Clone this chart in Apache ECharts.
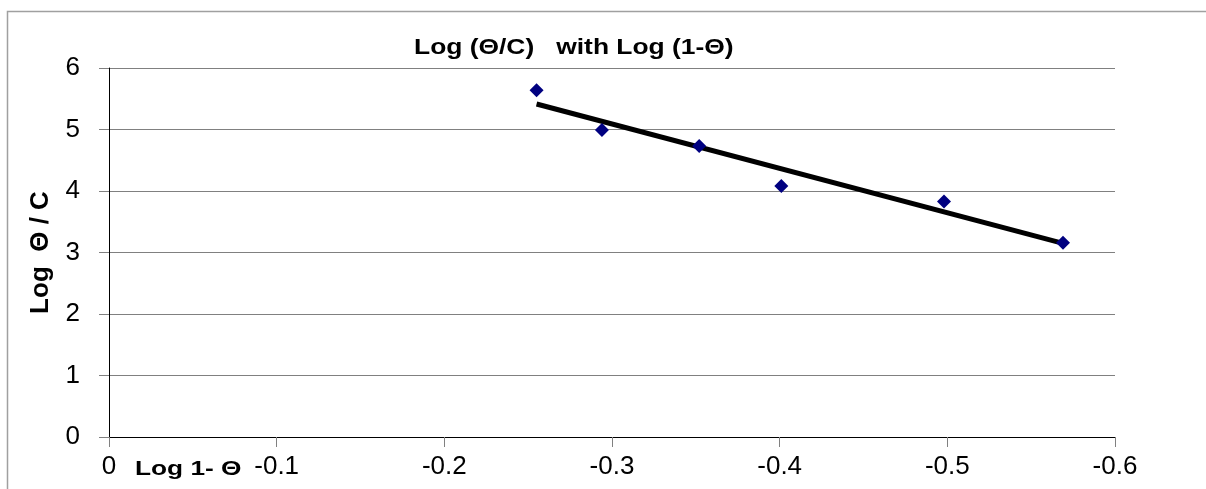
<!DOCTYPE html>
<html>
<head>
<meta charset="utf-8">
<script src="https://cdn.jsdelivr.net/npm/echarts@6/dist/echarts.min.js"></script>
<style>
  html, body { margin: 0; padding: 0; background: #fff; }
  #chart { width: 1206px; height: 489px; }
</style>
</head>
<body>
<div id="chart"></div>
<script>
// Log(1-Θ) values and Log(Θ/C) values
var logOneMinusTheta = [-0.255, -0.294, -0.352, -0.401, -0.498, -0.569];
var logThetaOverC = [5.64, 4.99, 4.73, 4.08, 3.83, 3.16];

var points = logOneMinusTheta.map(function (x, i) { return [x, logThetaOverC[i]]; });

// least squares trend line over the points
function trend(xs, ys) {
  var n = xs.length, mx = 0, my = 0, sxy = 0, sxx = 0;
  for (var i = 0; i < n; i++) { mx += xs[i]; my += ys[i]; }
  mx /= n; my /= n;
  for (var j = 0; j < n; j++) {
    sxy += (xs[j] - mx) * (ys[j] - my);
    sxx += (xs[j] - mx) * (xs[j] - mx);
  }
  var b = sxy / sxx, a = my - b * mx;
  var lo = Math.min.apply(null, xs), hi = Math.max.apply(null, xs);
  return [[hi, a + b * hi], [lo, a + b * lo]];
}
var trendLine = trend(logOneMinusTheta, logThetaOverC);

var font = '"Liberation Sans", Arial, sans-serif';
var chart = echarts.init(document.getElementById('chart'));

chart.setOption({
  animation: false,
  backgroundColor: '#fff',
  grid: { left: 109, right: 91, top: 68, bottom: 52 },
  xAxis: {
    type: 'value',
    min: -0.6,
    max: 0,
    interval: 0.1,
    inverse: true,
    axisLine: { lineStyle: { color: '#000', width: 1 } },
    axisTick: { show: true, length: 10, lineStyle: { color: '#808080' } },
    axisLabel: {
      margin: 17,
      fontFamily: font,
      fontSize: 26,
      color: '#000',
      formatter: function (v) { return String(Math.round(v * 10) / 10); }
    },
    splitLine: { show: false }
  },
  yAxis: {
    type: 'value',
    min: 0,
    max: 6,
    interval: 1,
    name: 'Log  \u0398 / C',
    nameLocation: 'middle',
    nameGap: 55,
    nameTextStyle: { fontFamily: font, fontSize: 26, fontWeight: 'bold', color: '#000' },
    axisLine: { show: true, lineStyle: { color: '#000', width: 1 } },
    axisTick: { show: true, length: 10, lineStyle: { color: '#808080' } },
    axisLabel: { margin: 29, fontFamily: font, fontSize: 26, color: '#000' },
    splitLine: { show: true, lineStyle: { color: '#808080', width: 1 } }
  },
  graphic: [
    // outer chart frame, only top and left edges show in the picture
    {
      type: 'polyline',
      silent: true,
      shape: { points: [[7.5, 489], [7.5, 11.5], [1206, 11.5]] },
      style: { fill: null, stroke: '#a0a0a0', lineWidth: 1.5 }
    },
    {
      type: 'text',
      x: 414,
      y: 37,
      scaleX: 1.2,
      style: {
        text: 'Log (\u0398/C)   with Log (1-\u0398)',
        font: 'bold 22px ' + font,
        fill: '#000',
        verticalAlign: 'top'
      }
    },
    {
      type: 'text',
      x: 135,
      y: 469,
      scaleX: 1.25,
      style: {
        text: 'Log 1- \u0398',
        font: 'bold 21px ' + font,
        fill: '#000',
        verticalAlign: 'middle'
      }
    }
  ],
  series: [
    {
      type: 'line',
      data: trendLine,
      showSymbol: false,
      symbol: 'none',
      lineStyle: { color: '#000', width: 5 },
      z: 2
    },
    {
      type: 'scatter',
      data: points,
      symbol: 'diamond',
      symbolSize: 14,
      itemStyle: { color: '#000080', opacity: 1 },
      z: 3
    }
  ]
});
</script>
</body>
</html>
